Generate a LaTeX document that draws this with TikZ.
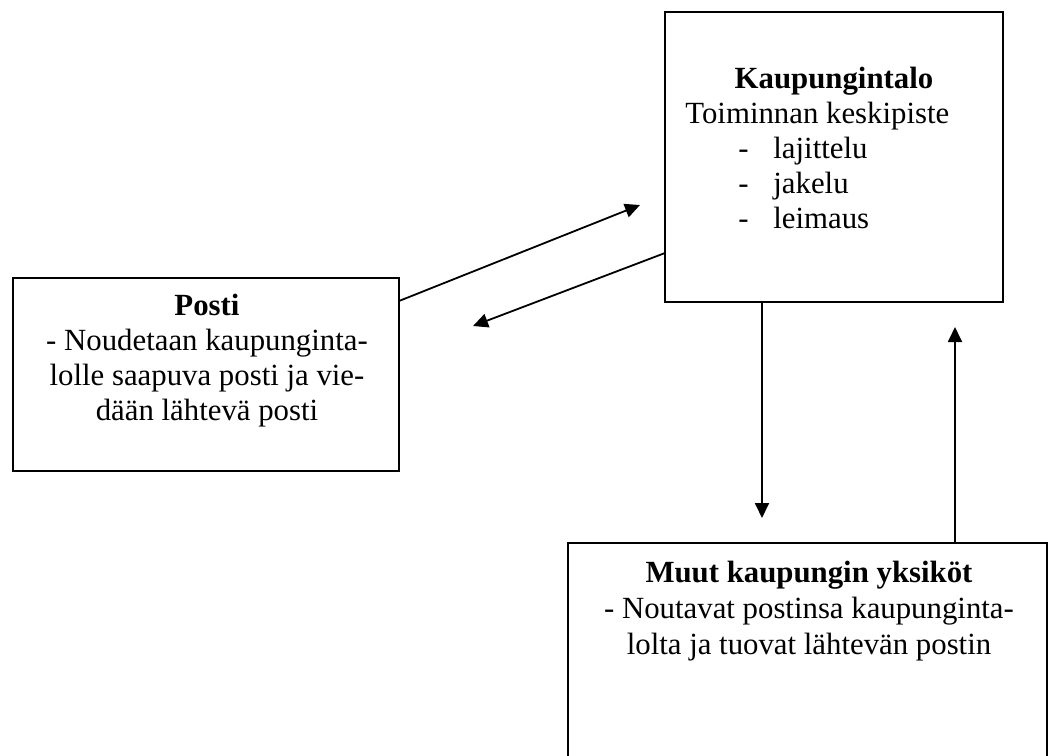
\documentclass[tikz,border=0pt]{standalone}
\usepackage{fontspec}
\setmainfont{Liberation Serif}
\usetikzlibrary{arrows.meta,positioning,calc}

\begin{document}
\begin{tikzpicture}[x=0.5pt,y=-0.5pt,
        box/.style={draw, line width=1.1pt, inner sep=0pt, outer sep=0pt},
        txt/.style={inner sep=0pt, anchor=base, font=\fontsize{15.4}{18}\selectfont},
        flow/.style={line width=0.9pt, -{Triangle[length=7.5pt,width=7pt]}}]
            \useasboundingbox (0,0) rectangle (1051,756);
            \node[box, minimum width=169pt, minimum height=145pt] (talo) at (834,157) {};
            \node[box, minimum width=193pt, minimum height=96.5pt] (posti) at (206,374.5) {};
            \node[box, minimum width=239.5pt, minimum height=120pt] (muut) at (807.5,663) {};
            \node[txt, font=\fontsize{15.4}{18}\selectfont\bfseries] (taloname) at (834,88) {Kaupungintalo};
            \node[txt, anchor=base west] (talokuvaus) at (685,123) {Toiminnan keskipiste};
            \foreach \y/\t in {158/lajittelu,193/jakelu,228/leimaus}{
                    \node[txt, anchor=base west] (viiva\y) at (738,\y) {-};
                    \node[txt, anchor=base west] (tehtava\y) at (773,\y) {\t};
                }
            \node[txt, font=\fontsize{15.4}{18}\selectfont\bfseries] (postiname) at (207,315) {Posti};
            \node[txt] (posti1) at (207,350) {- Noudetaan kaupunginta-};
            \node[txt] (posti2) at (207,385) {lolle saapuva posti ja vie-};
            \node[txt] (posti3) at (207,420) {dään lähtevä posti};
            \node[txt, font=\fontsize{15.4}{18}\selectfont\bfseries] (muutname) at (809,582) {Muut kaupungin yksiköt};
            \node[txt] (muut1) at (809,618) {- Noutavat postinsa kaupunginta-};
            \node[txt] (muut2) at (809,654) {lolta ja tuovat lähtevän postin};
            \coordinate (kohde1) at (640,205);
            \coordinate (kohde2) at (473,326);
            \coordinate (kohde3) at (762,518);
            \coordinate (kohde4) at (955,327);
            \draw[flow] ($(posti.north east)+(0,23)$) -- (kohde1);
            \draw[flow] ($(talo.south west)+(0,-49)$) -- (kohde2);
            \draw[flow] ($(talo.south west)+(97,0)$) -- (kohde3);
            \draw[flow] ($(muut.north west)+(387,0)$) -- (kohde4);
        \end{tikzpicture}
\end{document}
